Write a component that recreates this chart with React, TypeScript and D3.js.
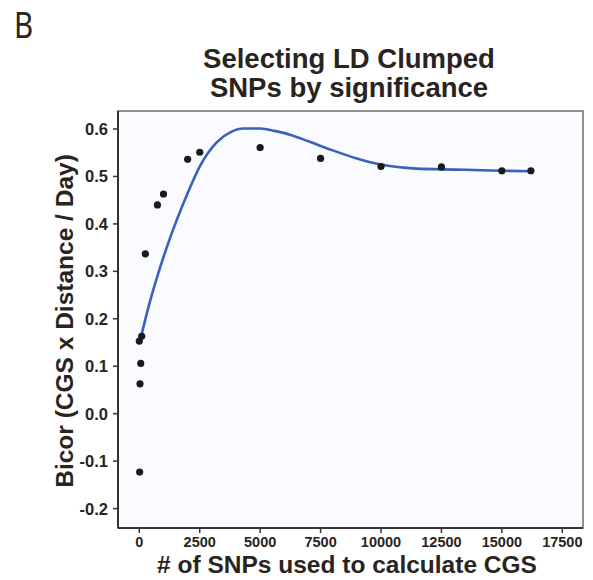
import React from "react";
import * as d3 from "d3";

const pointX = [0, 100, 60, 30, 15, 250, 750, 1000, 2000, 2500, 5000, 7500, 10000, 12500, 15000, 16200];
const pointY = [0.153, 0.163, 0.106, 0.063, -0.123, 0.337, 0.44, 0.463, 0.536, 0.551, 0.561, 0.538, 0.521, 0.52, 0.512, 0.512];

const curveX = [10, 330, 720, 1270, 1960, 2510, 3200, 3800, 4300, 5000, 5600, 6300, 7000, 8000, 9000, 10000, 11300, 12500, 13500, 15000, 16200];
const curveY = [0.148, 0.215, 0.285, 0.37, 0.46, 0.522, 0.572, 0.594, 0.601, 0.601, 0.596, 0.587, 0.574, 0.555, 0.538, 0.525, 0.517, 0.515, 0.514, 0.512, 0.511];

const xTicks = [0, 2500, 5000, 7500, 10000, 12500, 15000, 17500];
const yTicks = [-0.2, -0.1, 0.0, 0.1, 0.2, 0.3, 0.4, 0.5, 0.6];

const titleLines = ["Selecting LD Clumped", "SNPs by significance"];
const xLabel = "# of SNPs used to calculate CGS";
const yLabel = "Bicor (CGS x Distance / Day)";
const panelLetter = "B";

export default function App() {
  const W = 593, H = 580;
  const left = 118, right = 583, top = 111, bottom = 528;
  const x = d3.scaleLinear().domain([0, 17500]).range([139.3, 562.3]);
  const y = d3.scaleLinear().domain([0, 0.6]).range([413.7, 129]);
  const line = d3
    .line<number>()
    .x((_, i) => x(curveX[i]))
    .y((d) => y(d))
    .curve(d3.curveMonotoneX);
  const txt = "#2a2421";
  const font = "'Liberation Sans', Arial, sans-serif";
  return (
    <svg
      width={W}
      height={H}
      style={{ position: "absolute", left: 0, top: 0, background: "#fff" }}
    >
      <text
        transform="translate(14, 38) scale(0.82, 1)"
        fontFamily="'Noto Sans', 'Open Sans', sans-serif"
        fontSize={36}
        fill={txt}
      >
        {panelLetter}
      </text>
      {titleLines.map((t, i) => (
        <text
          key={t}
          x={349}
          y={68 + i * 29}
          textAnchor="middle"
          fontFamily={font}
          fontWeight="bold"
          fontSize={27.5}
          fill={txt}
        >
          {t}
        </text>
      ))}
      <rect x={left} y={top} width={right - left} height={bottom - top} fill="#f9fbfe" stroke="#555" strokeWidth={1.3} />
      <line x1={left} x2={left} y1={top} y2={bottom} stroke="#333" strokeWidth={2} />
      <line x1={left} x2={right} y1={bottom} y2={bottom} stroke="#333" strokeWidth={2} />
      {yTicks.map((t) => (
        <g key={t}>
          <line x1={left - 5} x2={left} y1={y(t)} y2={y(t)} stroke="#333" strokeWidth={1.5} />
          <text
            x={left - 10}
            y={y(t)}
            dy="0.36em"
            textAnchor="end"
            fontFamily={font}
            fontWeight="bold"
            fontSize={16.5}
            fill={txt}
          >
            {d3.format(".1f")(t).replace("−", "-")}
          </text>
        </g>
      ))}
      {xTicks.map((t) => (
        <g key={t}>
          <line x1={x(t)} x2={x(t)} y1={bottom} y2={bottom + 5} stroke="#333" strokeWidth={1.5} />
          <text
            x={x(t)}
            y={547}
            textAnchor="middle"
            fontFamily={font}
            fontWeight="bold"
            fontSize={14.5}
            fill={txt}
          >
            {t}
          </text>
        </g>
      ))}
      <text
        x={347}
        y={573}
        textAnchor="middle"
        fontFamily={font}
        fontWeight="bold"
        fontSize={24.5}
        fill={txt}
      >
        {xLabel}
      </text>
      <text
        transform={`translate(73, 321) rotate(-90)`}
        textAnchor="middle"
        fontFamily={font}
        fontWeight="bold"
        fontSize={24.5}
        fill={txt}
      >
        {yLabel}
      </text>
      <path d={line(curveY) || ""} fill="none" stroke="#3d5fbe" strokeWidth={2.6} />
      {pointX.map((px, i) => (
        <circle key={i} cx={x(px)} cy={y(pointY[i])} r={3.6} fill="#1a1a1a" />
      ))}
    </svg>
  );
}
